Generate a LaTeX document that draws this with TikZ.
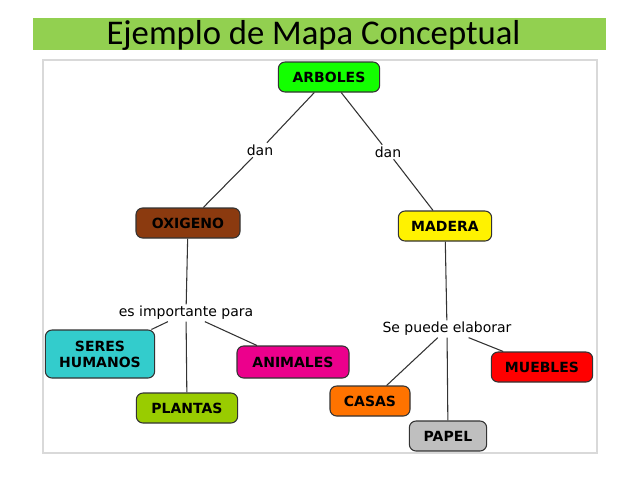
\documentclass[tikz,border=0pt]{standalone}
\usepackage{fontspec}
\setmainfont{DejaVu Sans}
\newfontfamily\titlefont{Carlito}
\usetikzlibrary{positioning}
\definecolor{titlebar}{HTML}{92D050}
\definecolor{oxbrown}{HTML}{8B3A0F}
\definecolor{turq}{HTML}{33CCCC}
\definecolor{leaf}{HTML}{99CC00}

\begin{document}
\begin{tikzpicture}[
    x=0.75pt, y=-0.75pt,
    thick
  ]

  % Styles
  \tikzstyle{concept}=[draw=black!80, rounded corners=5pt, font=\bfseries\fontsize{10.5}{12}\selectfont, align=center, minimum height=22.5pt, inner xsep=5pt]
  \tikzstyle{link}=[font=\fontsize{10.5}{12}\selectfont, fill=white, inner sep=1pt]
  \tikzstyle{edge}=[draw=black!80, line width=0.8pt]

  \useasboundingbox (0,0) rectangle (638,479);

  % Title
  \fill[titlebar] (33,18) rectangle (606,50);
  \node[font=\titlefont\fontsize{26}{28}\selectfont, anchor=west, inner sep=0pt] (title) at (106,35) {Ejemplo de Mapa Conceptual};
  \draw[black!15] (43,60) rectangle (597,453);

  % Concepts
  \node[concept, fill=green!90!lime, minimum width=76pt] (arboles) at (329,77) {ARBOLES};
  \node[concept, fill=oxbrown, minimum width=78pt] (oxigeno) at (188,223) {OXIGENO};
  \node[concept, fill=yellow, minimum width=70pt] (madera) at (445,226) {MADERA};
  \node[concept, fill=turq, minimum width=82pt, minimum height=36pt] (seres) at (100,354) {SERES\\HUMANOS};
  \node[concept, fill=leaf, minimum width=76pt] (plantas) at (187,408) {PLANTAS};
  \node[concept, fill=magenta, minimum width=84pt, minimum height=24pt] (animales) at (293,362) {ANIMALES};
  \node[concept, fill=red, minimum width=76pt] (muebles) at (542,367) {MUEBLES};
  \node[concept, fill=orange!90!red, minimum width=60pt] (casas) at (370,401) {CASAS};
  \node[concept, fill=black!25, minimum width=58pt] (papel) at (448,436) {PAPEL};

  % Linking phrases
  \node[link] (dan1) at (260,150) {dan};
  \node[link] (dan2) at (388,152) {dan};
  \node[link] (importante) at (186,313) {es importante para};
  \node[link] (elaborar) at (447,329) {Se puede elaborar};

  % Connections
  \draw[edge] (arboles) -- (dan1) -- (oxigeno);
  \draw[edge] (arboles) -- (dan2) -- (madera);
  \draw[edge] (oxigeno) -- (importante);
  \draw[edge] (importante) -- (seres);
  \draw[edge] (importante) -- (plantas);
  \draw[edge] (importante) -- (animales);
  \draw[edge] (madera) -- (elaborar);
  \draw[edge] (elaborar) -- (muebles);
  \draw[edge] (elaborar) -- (casas);
  \draw[edge] (elaborar) -- (papel);

\end{tikzpicture}
\end{document}
